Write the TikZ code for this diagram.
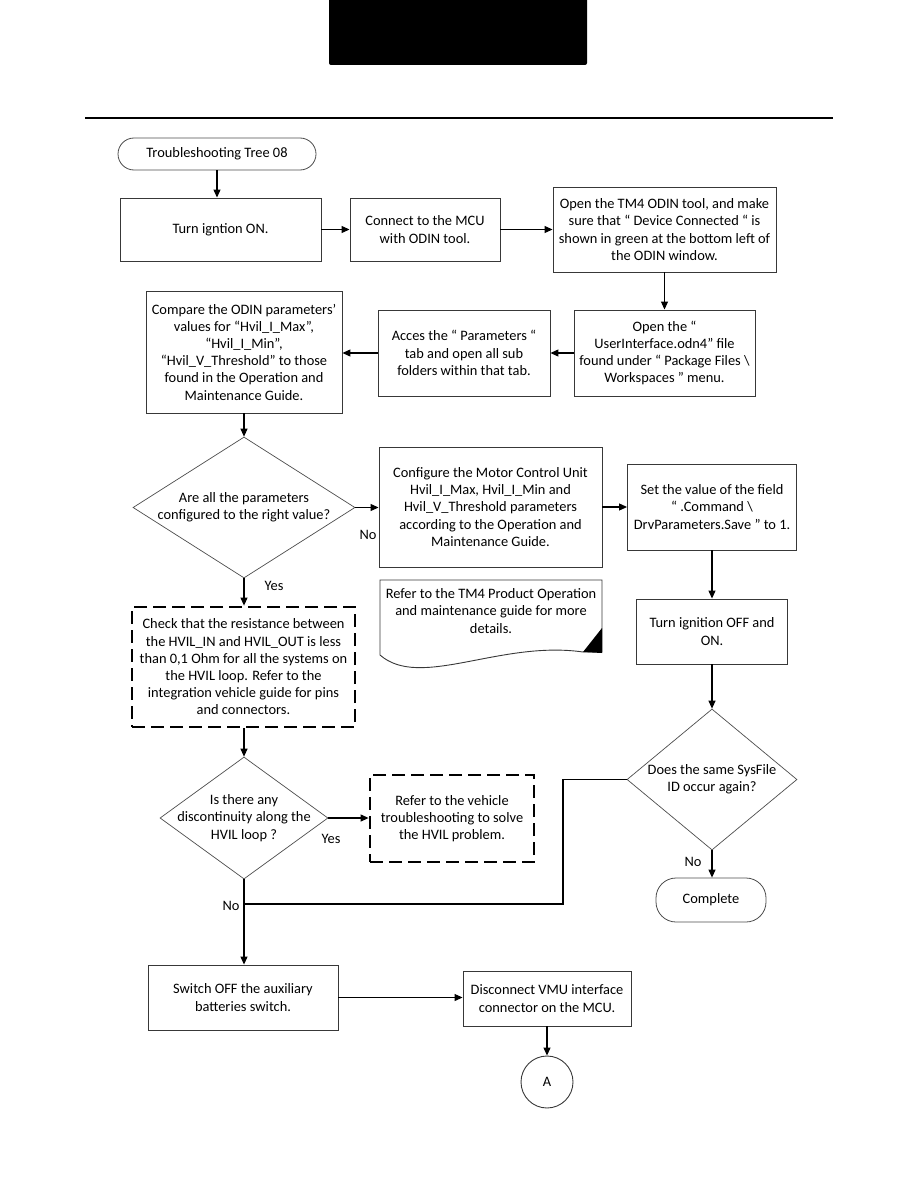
\documentclass[tikz,border=0pt]{standalone}
\usepackage{fontspec}
\setmainfont{Carlito}
\usetikzlibrary{arrows.meta,shapes.geometric}
\begin{document}
\begin{tikzpicture}[x=1pt,y=-1pt]
\tikzset{
 fs/.style={font=\fontsize{14.4}{17.2}\selectfont},
 box/.style={draw=black!78, line width=0.9pt, fill=white, align=center, inner sep=0pt, fs},
 dbox/.style={draw=black, line width=2.8pt, dash pattern=on 13pt off 6pt, align=center, inner sep=0pt, fs},
 dia/.style={draw=black!70, line width=0.7pt, shape=diamond, inner sep=0pt},
 term/.style={draw=black!70, line width=0.8pt, align=center, inner sep=0pt, fs},
 lbl/.style={fs, inner sep=0pt, align=center},
 arr/.style={line width=1.1pt, -{Triangle[length=8pt,width=7pt]}},
 ln/.style={line width=1.1pt},
}
\useasboundingbox (0,0) rectangle (918,1188);
% header
\fill[black, rounded corners=2pt] (329,-5) rectangle (587,65);
\draw[line width=2pt] (85,118) -- (833,118);

% nodes
\node[term, rounded corners=16pt, minimum width=198pt, minimum height=32pt] (start) at (217,154) {Troubleshooting Tree 08};
\node[box, minimum width=201pt, minimum height=63pt] (b1) at (220.5,229.5) {Turn igntion ON.};
\node[box, minimum width=150pt, minimum height=63pt] (b2) at (425,229.5) {Connect to the MCU\\with ODIN tool.};
\node[box, minimum width=223pt, minimum height=85pt] (b3) at (664.5,229.5) {Open the TM4 ODIN tool, and make\\sure that “ Device Connected “ is\\shown in green at the bottom left of\\the ODIN window.};
\node[box, minimum width=181pt, minimum height=86pt] (b4) at (664.5,353) {Open the “\\UserInterface.odn4” file\\found under “ Package Files \textbackslash\\Workspaces ” menu.};
\node[box, minimum width=172pt, minimum height=86pt] (b5) at (464,353) {Acces the “ Parameters “\\tab and open all sub\\folders within that tab.};
\node[box, minimum width=196pt, minimum height=122pt] (b6) at (244,352) {Compare the ODIN parameters’\\values for “Hvil\_I\_Max”,\\“Hvil\_I\_Min”,\\“Hvil\_V\_Threshold” to those\\found in the Operation and\\Maintenance Guide.};

\node[dia, minimum width=222pt, minimum height=141pt] (d1) at (244,507.5) {};
\node[lbl] (d1t) at (d1) {Are all the parameters\\configured to the right value?};

\node[box, minimum width=223pt, minimum height=120pt] (b7) at (490.5,507) {Configure the Motor Control Unit\\Hvil\_I\_Max, Hvil\_I\_Min and\\Hvil\_V\_Threshold parameters\\according to the Operation and\\Maintenance Guide.};
\node[box, minimum width=169pt, minimum height=86pt] (b8) at (712,507) {Set the value of the field\\“ .Command \textbackslash\\DrvParameters.Save ” to 1.};
\node[box, minimum width=151pt, minimum height=65pt] (b9) at (712,631.5) {Turn ignition OFF and\\ON.};

% document shape
\draw[draw=black!78, line width=0.9pt] (380,580) -- (602,580) -- (602,652) -- (583,652) .. controls (500,640) and (420,690) .. (380,655) -- cycle;
\fill[black] (583,652) -- (602,628) -- (602,653) -- cycle;
\node[lbl] (doc) at (491,611) {Refer to the TM4 Product Operation\\and maintenance guide for more\\details.};

\node[dbox, minimum width=223pt, minimum height=120pt] (db1) at (243.5,667) {Check that the resistance between\\the HVIL\_IN and HVIL\_OUT is less\\than 0,1 Ohm for all the systems on\\the HVIL loop. Refer to the\\integration vehicle guide for pins\\and connectors.};

\node[dia, minimum width=168pt, minimum height=122pt] (d2) at (244,818) {};
\node[lbl] (d2t) at (d2) {Is there any\\discontinuity along the\\HVIL loop ?};
\node[dbox, minimum width=164pt, minimum height=87pt] (db2) at (452,818.5) {Refer to the vehicle\\troubleshooting to solve\\the HVIL problem.};

\node[dia, minimum width=170pt, minimum height=141pt] (d3) at (712,779.5) {};
\node[lbl] (d3t) at (d3) {Does the same SysFile\\ID occur again?};
\node[term, rounded corners=20pt, minimum width=110pt, minimum height=44pt] (comp) at (711,900) {Complete};

\node[box, minimum width=190pt, minimum height=65pt] (b10) at (243,997.5) {Switch OFF the auxiliary\\batteries switch.};
\node[box, minimum width=168pt, minimum height=55pt] (b11) at (547,998.5) {Disconnect VMU interface\\connector on the MCU.};
\node[draw=black!78, line width=0.9pt, circle, minimum size=52pt, inner sep=0pt, fs] (A) at (547,1082) {A};

% labels
\node[lbl] (l1) at (368,535) {No};
\node[lbl] (l2) at (274,586) {Yes};
\node[lbl] (l3) at (331,839) {Yes};
\node[lbl] (l4) at (231,906) {No};
\node[lbl] (l5) at (693,862) {No};

% connectors
\draw[arr] (start.south) -- (start.south |- b1.north);
\draw[arr] (b1.east) -- (b2.west);
\draw[arr] (b2.east) -- (b3.west);
\draw[arr] (b3.south) -- (b4.north);
\draw[arr] (b4.west) -- (b5.east);
\draw[arr] (b5.west) -- (b5.west -| b6.east);
\draw[arr] (b6.south) -- (d1.north);
\draw[arr] (d1.east) -- (d1.east -| b7.west);
\draw[arr] (d1.south) -- (d1.south |- db1.north);
\draw[arr] (b7.east) -- (b7.east -| b8.west);
\draw[arr] (b8.south) -- (b9.north);
\draw[arr] (b9.south) -- (d3.north);
\draw[arr] (d3.south) -- (d3.south |- comp.north);
\draw[arr] (db1.south -| d2.north) -- (d2.north);
\draw[arr] (d2.east) -- (d2.east -| db2.west);
\draw[arr] (d2.south) -- (d2.south |- b10.north);
\coordinate (j) at (244,904);
\coordinate (k) at (563,904);
\draw[ln] (d3.west) -- (d3.west -| k) |- (j);
\draw[arr] (b10.east) -- (b10.east -| b11.west);
\draw[arr] (b11.south) -- (A.north);
\end{tikzpicture}
\end{document}
